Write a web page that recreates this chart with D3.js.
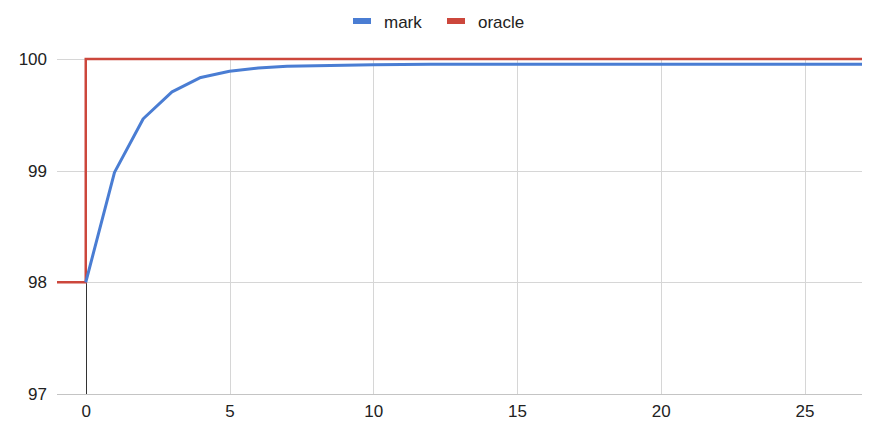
<!DOCTYPE html>
<html>
<head>
<meta charset="utf-8">
<script src="https://cdn.jsdelivr.net/npm/d3@7"></script>
<style>
body { margin: 0; background: #fff; }
svg text { font-family: "Liberation Sans", Arial, sans-serif; fill: #222; }
</style>
</head>
<body>
<svg id="chart"></svg>
<script>
// mark series: one value per step
var markX = [0,1,2,3,4,5,6,7,8,9,10,11,12,13,14,15,16,17,18,19,20,21,22,23,24,25,26,27];
var markY = [98,98.985,99.465,99.705,99.835,99.89,99.92,99.935,99.94,99.945,99.948,99.95,99.952,99.952,99.953,99.953,99.953,99.953,99.953,99.953,99.953,99.953,99.953,99.953,99.953,99.953,99.953,99.953];

// oracle series is a step: 98 before 0, 100 after
var oracleX = [-1,0,0,27];
var oracleY = [98,98,100,100];

var xTicks = [0,5,10,15,20,25];
var yTicks = [97,98,99,100];

var seriesNames = ["mark","oracle"];
var seriesColors = ["#4a7dd3","#cc473c"];

var screen = {width:870, height:440};
var margins = {top:59, bottom:46, left:57, right:8};
var graph = {
    width:screen.width-margins.left-margins.right,
    height:screen.height-margins.top-margins.bottom
};

var svg = d3.select("#chart")
    .attr("width",screen.width)
    .attr("height",screen.height);

var xScale = d3.scaleLinear()
    .domain([-1,27])
    .range([0,graph.width]);

var yScale = d3.scaleLinear()
    .domain([97,100])
    .range([graph.height,0]);

var g = svg.append("g")
    .attr("transform","translate("+margins.left+","+margins.top+")");

// horizontal gridlines
g.append("g")
    .selectAll("line")
    .data(yTicks)
    .enter()
    .append("line")
    .attr("x1",0)
    .attr("x2",graph.width)
    .attr("y1",function(d){ return Math.round(yScale(d))+0.5; })
    .attr("y2",function(d){ return Math.round(yScale(d))+0.5; })
    .attr("stroke",function(d){ return d==97 ? "#c4c4c4" : "#d6d6d6"; })
    .attr("stroke-width",1);

// vertical gridlines (0 gets the dark axis line instead)
g.append("g")
    .selectAll("line")
    .data(xTicks.filter(function(d){ return d!=0; }))
    .enter()
    .append("line")
    .attr("x1",function(d){ return Math.round(xScale(d))+0.5; })
    .attr("x2",function(d){ return Math.round(xScale(d))+0.5; })
    .attr("y1",0)
    .attr("y2",graph.height)
    .attr("stroke","#d6d6d6")
    .attr("stroke-width",1);

g.append("line")
    .attr("x1",Math.round(xScale(0))+0.5)
    .attr("x2",Math.round(xScale(0))+0.5)
    .attr("y1",0)
    .attr("y2",graph.height)
    .attr("stroke","#333")
    .attr("stroke-width",1);

// axes labels
var xAxis = d3.axisBottom(xScale).tickValues(xTicks).tickFormat(d3.format("d")).tickSize(0).tickPadding(11);
var yAxis = d3.axisLeft(yScale).tickValues(yTicks).tickFormat(d3.format("d")).tickSize(0).tickPadding(10);

var xg = g.append("g")
    .attr("transform","translate(0,"+graph.height+")")
    .call(xAxis);
var yg = g.append("g")
    .call(yAxis);
[xg,yg].forEach(function(a){
    a.select(".domain").remove();
    a.selectAll("text")
        .style("font-size","17px")
        .attr("fill","#222");
});

// lines
var line = d3.line()
    .x(function(d){ return xScale(d[0]); })
    .y(function(d){ return yScale(d[1]); });

g.append("path")
    .datum(oracleX.map(function(x,i){ return [x,oracleY[i]]; }))
    .attr("d",line)
    .attr("fill","none")
    .attr("stroke",seriesColors[1])
    .attr("stroke-width",2.5);

g.append("path")
    .datum(markX.map(function(x,i){ return [x,markY[i]]; }))
    .attr("d",line)
    .attr("fill","none")
    .attr("stroke",seriesColors[0])
    .attr("stroke-width",3)
    .attr("stroke-linejoin","round");

// legend
var legendPos = [353,447];
var legend = svg.append("g");
seriesNames.forEach(function(name,i){
    legend.append("rect")
        .attr("x",legendPos[i])
        .attr("y",18)
        .attr("width",18)
        .attr("height",6)
        .attr("fill",seriesColors[i]);
    legend.append("text")
        .attr("x",legendPos[i]+31)
        .attr("y",28)
        .style("font-size","17px")
        .text(name);
});
</script>
</body>
</html>
